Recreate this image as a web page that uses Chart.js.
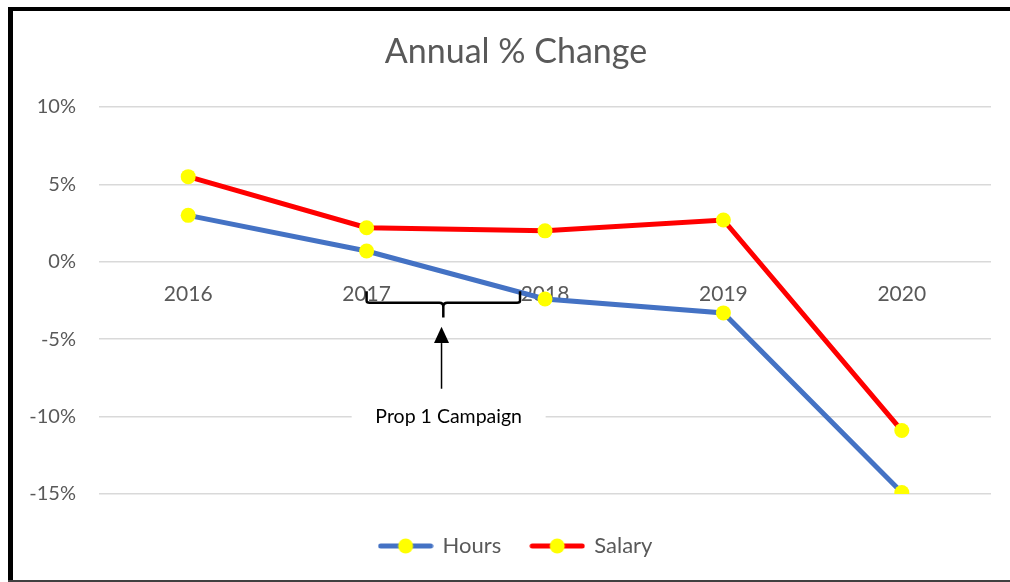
<!DOCTYPE html>
<html>
<head>
<meta charset="utf-8">
<script src="https://cdn.jsdelivr.net/npm/chart.js@4"></script>
<style>
  html, body { margin: 0; padding: 0; background: #fff; }
  #wrap { position: relative; width: 1010px; height: 582px; }
  .edge { position: absolute; background: #000; }
</style>
</head>
<body>
<div id="wrap">
  <canvas id="myChart"></canvas>
  <div class="edge" style="left:8px; top:7px; width:1002px; height:4px;"></div>
  <div class="edge" style="left:8px; top:7px; width:5px; height:575px;"></div>
  <div class="edge" style="left:8px; top:580px; width:1002px; height:2px; background:#404040;"></div>
</div>
<script>
const years = ["2016", "2017", "2018", "2019", "2020"];
const hours = [3.0, 0.7, -2.4, -3.3, -14.9];
const salary = [5.5, 2.2, 2.0, 2.7, -10.9];
const seriesNames = ["Hours", "Salary"];
const lineColors = ["#4472C4", "#FF0000"];
const yMin = -15;
const yMax = 10;
const yStep = 5;

Chart.defaults.font.family = "Lato, 'Open Sans', sans-serif";

// little line + dot picture for the legend
function legendIcon(color) {
  const c = document.createElement("canvas");
  c.width = 56;
  c.height = 16;
  const g = c.getContext("2d");
  g.strokeStyle = color;
  g.lineWidth = 5;
  g.lineCap = "round";
  g.beginPath();
  g.moveTo(3, 8);
  g.lineTo(53, 8);
  g.stroke();
  g.fillStyle = "#FFFF00";
  g.beginPath();
  g.arc(28, 8, 7.5, 0, Math.PI * 2);
  g.fill();
  return c;
}

// bracket, arrow and label for the campaign period
const campaignNote = {
  id: "campaignNote",
  afterDraw(chart) {
    const { ctx } = chart;
    const x = chart.scales.x;
    const y = chart.scales.y;
    const x0 = x.getPixelForValue(1);
    const x1 = x.getPixelForValue(1.86);
    const xm = x.getPixelForValue(1.43);
    const hookTop = y.getPixelForValue(-1.9);
    const bar = y.getPixelForValue(-2.65);
    const nub = y.getPixelForValue(-3.6);
    ctx.save();
    ctx.strokeStyle = "#000";
    ctx.lineWidth = 2.5;
    ctx.lineJoin = "round";
    ctx.beginPath();
    ctx.moveTo(x0, hookTop);
    ctx.lineTo(x0, bar - 2);
    ctx.quadraticCurveTo(x0, bar, x0 + 3, bar);
    ctx.lineTo(xm - 4, bar);
    ctx.quadraticCurveTo(xm, bar, xm, bar + 4);
    ctx.lineTo(xm, nub);
    ctx.moveTo(xm, bar + 4);
    ctx.quadraticCurveTo(xm, bar, xm + 4, bar);
    ctx.lineTo(x1 - 3, bar);
    ctx.quadraticCurveTo(x1, bar, x1, bar - 2);
    ctx.lineTo(x1, hookTop);
    ctx.stroke();

    const ax = x.getPixelForValue(1.42);
    const tip = y.getPixelForValue(-4.2);
    const headBase = y.getPixelForValue(-5.25);
    const tail = y.getPixelForValue(-8.2);
    ctx.lineWidth = 1.5;
    ctx.beginPath();
    ctx.moveTo(ax, headBase);
    ctx.lineTo(ax, tail);
    ctx.stroke();
    ctx.fillStyle = "#000";
    ctx.beginPath();
    ctx.moveTo(ax, tip);
    ctx.lineTo(ax - 7.5, headBase);
    ctx.lineTo(ax + 7.5, headBase);
    ctx.closePath();
    ctx.fill();

    const tx = x.getPixelForValue(1.46);
    const ty = y.getPixelForValue(-10.0);
    ctx.fillStyle = "#fff";
    ctx.fillRect(tx - 97, ty - 8, 194, 16);
    ctx.fillStyle = "#000";
    ctx.font = "19.5px Lato, sans-serif";
    ctx.textAlign = "center";
    ctx.textBaseline = "middle";
    ctx.fillText("Prop 1 Campaign", tx, ty);
    ctx.restore();
  },
};

const ctx = document.getElementById("myChart");
const myChart = new Chart(ctx, {
  type: "line",
  data: {
    labels: years,
    datasets: [
      {
        label: seriesNames[0],
        data: hours,
        borderColor: lineColors[0],
        backgroundColor: lineColors[0],
        borderWidth: 5,
        pointRadius: 7.5,
        pointBackgroundColor: "#FFFF00",
        pointBorderWidth: 0,
        tension: 0,
      },
      {
        label: seriesNames[1],
        data: salary,
        borderColor: lineColors[1],
        backgroundColor: lineColors[1],
        borderWidth: 5,
        pointRadius: 7.5,
        pointBackgroundColor: "#FFFF00",
        pointBorderWidth: 0,
        tension: 0,
      },
    ],
  },
  options: {
    responsive: true,
    maintainAspectRatio: false,
    animation: false,
    layout: { padding: { left: 24, right: 2, top: 0, bottom: 15 } },
    scales: {
      x: {
        position: { y: 0 },
        offset: true,
        z: 1,
        grid: { display: false },
        border: { display: false },
        ticks: { color: "#595959", font: { size: 21 }, padding: 12 },
      },
      y: {
        min: yMin,
        max: yMax,
        grid: { color: "#d9d9d9", lineWidth: 1.5, drawTicks: false },
        border: { display: false },
        ticks: {
          stepSize: yStep,
          color: "#595959",
          font: { size: 20 },
          padding: 23,
          callback: (v) => v + "%",
        },
        afterFit: (s) => {
          s.width = 75;
        },
      },
      // empty spacer on the right so title and legend sit where they should
      spacer: {
        type: "linear",
        position: "right",
        grid: { display: false },
        border: { display: false },
        ticks: { display: false },
        afterFit: (s) => {
          s.width = 17;
        },
      },
    },
    plugins: {
      title: {
        display: true,
        text: "Annual % Change",
        color: "#595959",
        font: { size: 34, weight: "normal" },
        padding: { top: 31.5, bottom: 34.7 },
      },
      legend: {
        position: "bottom",
        title: { display: true, text: " ", font: { size: 10, lineHeight: 1 }, padding: { top: 1, bottom: 0 } },
        labels: {
          usePointStyle: true,
          pointStyleWidth: 52,
          padding: 30,
          color: "#595959",
          font: { size: 22 },
          generateLabels: (chart) => {
            const items = Chart.defaults.plugins.legend.labels.generateLabels(chart);
            items.forEach((it, i) => {
              it.pointStyle = legendIcon(lineColors[i]);
            });
            return items;
          },
        },
      },
      tooltip: { enabled: false },
    },
  },
  plugins: [campaignNote],
});
</script>
</body>
</html>
